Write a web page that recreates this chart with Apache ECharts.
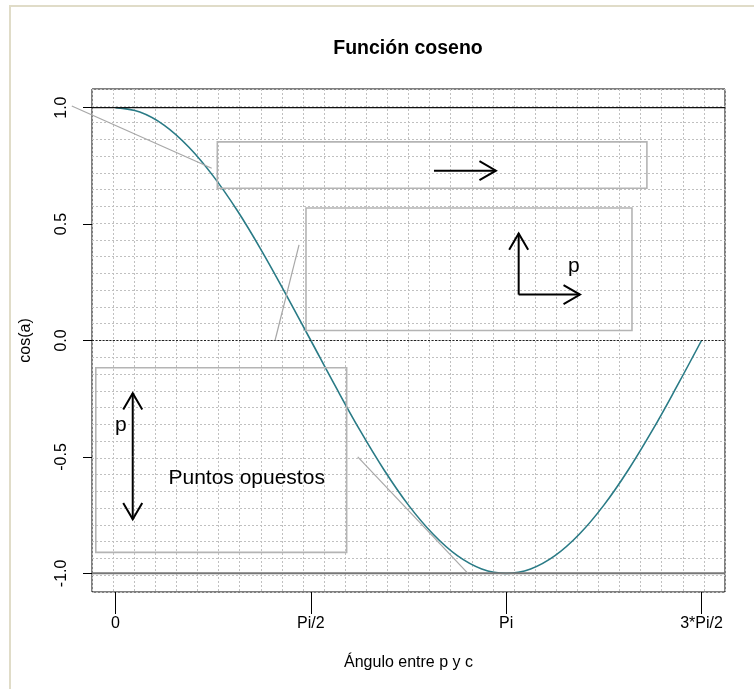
<!DOCTYPE html>
<html>
<head>
<meta charset="utf-8">
<script src="https://cdn.jsdelivr.net/npm/echarts@6/dist/echarts.min.js"></script>
<style>
html,body{margin:0;padding:0;background:#fff;}
#chart{width:754px;height:689px;}
</style>
</head>
<body>
<div id="chart"></div>
<script>
// ---- data ----
const curveX = [0, 0.196, 0.393, 0.589, 0.785, 0.982, 1.178, 1.374, 1.571, 1.767, 1.963, 2.160, 2.356, 2.553, 2.749, 2.945, 3.142, 3.338, 3.534, 3.731, 3.927, 4.123, 4.320, 4.516, 4.712];
const curveY = [1, 0.981, 0.924, 0.831, 0.707, 0.556, 0.383, 0.195, 0, -0.195, -0.383, -0.556, -0.707, -0.831, -0.924, -0.981, -1, -0.981, -0.924, -0.831, -0.707, -0.556, -0.383, -0.195, 0];

const xTickValues = [0, 1.5708, 3.1416, 4.7124];
const xTickLabels = ['0', 'Pi/2', 'Pi', '3*Pi/2'];
const yTickValues = [-1, -0.5, 0, 0.5, 1];

const xRange = [-0.1885, 4.9009];
const yRange = [-1.08, 1.08];
const gridCells = 30;

const hLineValues = [1, 0, -1];

// grey line segments [x0, y0, x1, y1]
const segments = [
  [-0.351, 1.007, 0.774, 0.740],
  [1.283, 0.0, 1.476, 0.411],
  [1.948, -0.500, 2.834, -1.000]
];
// grey rectangles [xLeft, yTop, xRight, yBottom]
const boxes = [
  [0.819, 0.853, 4.273, 0.654],
  [1.532, 0.569, 4.153, 0.043],
  [-0.158, -0.117, 1.859, -0.910]
];
// arrows [xFrom, yFrom, xTo, yTo]
const arrows = [
  [2.561, 0.729, 3.059, 0.729],
  [3.242, 0.197, 3.242, 0.460],
  [3.242, 0.197, 3.735, 0.197],
  [0.139, -0.497, 0.139, -0.226],
  [0.139, -0.497, 0.139, -0.768]
];
// texts [x, y, label]
const notes = [
  [3.686, 0.321, 'p'],
  [0.043, -0.364, 'p'],
  [1.055, -0.590, 'Puntos opuestos']
];

// ---- styles ----
const FONT = 'Liberation Sans, Arial, sans-serif';
const hLineStyles = [
  {stroke: '#111', lineWidth: 1.3},
  {stroke: '#222', lineWidth: 1.2, lineDash: [2, 1.5]},
  {stroke: '#777', lineWidth: 2}
];

const chart = echarts.init(document.getElementById('chart'), null, {renderer: 'canvas'});

function closestLabel(v) {
  let best = 0, bd = Infinity;
  xTickValues.forEach((t, i) => { const d = Math.abs(t - v); if (d < bd) { bd = d; best = i; } });
  return xTickLabels[best];
}

const option = {
  animation: false,
  backgroundColor: '#fff',
  grid: {left: 92, right: 29, top: 89, bottom: 97, show: true, borderColor: '#000', borderWidth: 1, backgroundColor: 'transparent'},
  graphic: [
    {type: 'rect', shape: {x: 9, y: 5, width: 760, height: 2}, style: {fill: '#e0dcc8'}, silent: true},
    {type: 'rect', shape: {x: 9, y: 5, width: 2, height: 700}, style: {fill: '#e0dcc8'}, silent: true},
    {type: 'text', x: 408, y: 49, style: {text: 'Función coseno', font: 'bold 19.5px ' + FONT, fill: '#000', textAlign: 'center', textVerticalAlign: 'middle'}}
  ],
  xAxis: [
    {
      type: 'value', min: xRange[0], max: xRange[1], gridIndex: 0, position: 'bottom',
      name: 'Ángulo entre p y c', nameLocation: 'middle', nameGap: 71,
      nameTextStyle: {fontFamily: FONT, fontSize: 16, color: '#000', verticalAlign: 'middle'},
      axisLine: {show: false, onZero: false},
      axisTick: {show: true, length: 22, customValues: xTickValues, lineStyle: {color: '#000', width: 1}},
      axisLabel: {show: true, customValues: xTickValues, margin: 24, fontFamily: FONT, fontSize: 16, color: '#000', formatter: v => closestLabel(v)},
      splitLine: {show: false}
    },
    {
      type: 'value', min: 0, max: gridCells, interval: 1, gridIndex: 0, position: 'top',
      axisLine: {show: false, onZero: false}, axisTick: {show: false}, axisLabel: {show: false},
      splitLine: {show: true, lineStyle: {color: '#c0c0c0', width: 1, type: [2, 2]}}
    }
  ],
  yAxis: [
    {
      type: 'value', min: yRange[0], max: yRange[1], gridIndex: 0, position: 'left',
      name: 'cos(a)', nameLocation: 'middle', nameGap: 58, nameRotate: 90,
      nameTextStyle: {fontFamily: FONT, fontSize: 16, color: '#000'},
      axisLine: {show: false, onZero: false},
      axisTick: {show: true, length: 9, customValues: yTickValues, lineStyle: {color: '#000', width: 1}},
      axisLabel: {show: true, customValues: yTickValues, rotate: 90, margin: 22, fontFamily: FONT, fontSize: 16, color: '#000', formatter: v => v.toFixed(1)},
      splitLine: {show: false}
    },
    {
      type: 'value', min: 0, max: gridCells, interval: 1, gridIndex: 0, position: 'right',
      axisLine: {show: false, onZero: false}, axisTick: {show: false}, axisLabel: {show: false},
      splitLine: {show: true, lineStyle: {color: '#c0c0c0', width: 1, type: [2, 2]}}
    }
  ],
  series: [
    {
      type: 'line', xAxisIndex: 0, yAxisIndex: 0,
      data: curveX.map((x, i) => [x, curveY[i]]),
      showSymbol: false, smooth: 0.4, z: 3,
      lineStyle: {color: '#2a7b86', width: 1.6}
    },
    {
      type: 'custom', xAxisIndex: 0, yAxisIndex: 0, z: 4,
      data: hLineValues.map(v => [0, v]),
      encode: {x: 0, y: 1},
      renderItem: function (params, api) {
        const cs = params.coordSys;
        const y = api.coord([0, api.value(1)])[1];
        return {type: 'line', shape: {x1: cs.x, y1: y, x2: cs.x + cs.width, y2: y}, style: Object.assign({fill: null}, hLineStyles[params.dataIndex])};
      }
    },
    {
      type: 'custom', xAxisIndex: 0, yAxisIndex: 0, z: 5, clip: false,
      data: segments,
      encode: {x: [0, 2], y: [1, 3]},
      renderItem: function (params, api) {
        const p0 = api.coord([api.value(0), api.value(1)]);
        const p1 = api.coord([api.value(2), api.value(3)]);
        return {type: 'line', shape: {x1: p0[0], y1: p0[1], x2: p1[0], y2: p1[1]}, style: {stroke: '#a8a8a8', lineWidth: 1.2}};
      }
    },
    {
      type: 'custom', xAxisIndex: 0, yAxisIndex: 0, z: 5,
      data: boxes,
      encode: {x: [0, 2], y: [1, 3]},
      renderItem: function (params, api) {
        const p0 = api.coord([api.value(0), api.value(1)]);
        const p1 = api.coord([api.value(2), api.value(3)]);
        return {type: 'rect', shape: {x: p0[0], y: p0[1], width: p1[0] - p0[0], height: p1[1] - p0[1]}, style: {fill: null, stroke: '#b4b4b4', lineWidth: 1.6}};
      }
    },
    {
      type: 'custom', xAxisIndex: 0, yAxisIndex: 0, z: 6,
      data: arrows,
      encode: {x: [0, 2], y: [1, 3]},
      renderItem: function (params, api) {
        const p0 = api.coord([api.value(0), api.value(1)]);
        const p1 = api.coord([api.value(2), api.value(3)]);
        const ang = Math.atan2(p1[1] - p0[1], p1[0] - p0[0]);
        const L = 19, a = Math.PI / 6;
        const h1 = [p1[0] - L * Math.cos(ang - a), p1[1] - L * Math.sin(ang - a)];
        const h2 = [p1[0] - L * Math.cos(ang + a), p1[1] - L * Math.sin(ang + a)];
        const st = {stroke: '#000', lineWidth: 2, fill: null};
        return {type: 'group', children: [
          {type: 'line', shape: {x1: p0[0], y1: p0[1], x2: p1[0], y2: p1[1]}, style: st},
          {type: 'polyline', shape: {points: [h1, p1, h2]}, style: st}
        ]};
      }
    },
    {
      type: 'custom', xAxisIndex: 0, yAxisIndex: 0, z: 6,
      data: notes,
      encode: {x: 0, y: 1},
      renderItem: function (params, api) {
        const p = api.coord([api.value(0), api.value(1)]);
        return {type: 'text', x: p[0], y: p[1], style: {text: notes[params.dataIndex][2], font: '21px ' + FONT, fill: '#000', textAlign: 'center', textVerticalAlign: 'middle'}};
      }
    }
  ]
};
chart.setOption(option);
</script>
</body>
</html>
